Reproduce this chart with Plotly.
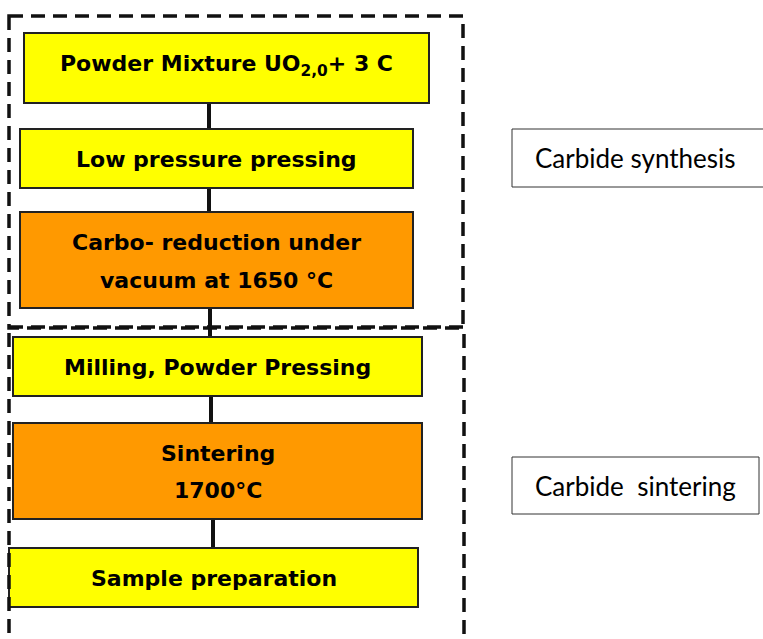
import plotly.graph_objects as go

# ---- data: flowchart steps ----
step_lines = [
    ["Powder Mixture UO<sub>2,0</sub>+ 3 C"],
    ["Low pressure pressing"],
    ["Carbo- reduction under", "vacuum at 1650 °C"],
    ["Milling, Powder Pressing"],
    ["Sintering", "1700°C"],
    ["Sample preparation"],
]
step_kind = ["mix", "mix", "heat", "mix", "heat", "mix"]
stage_labels = ["Carbide synthesis", "Carbide  sintering"]

# ---- layout geometry (pixels of the page) ----
W, H = 763, 639
box_geom = [  # x0, x1, y0, y1
    (24, 429, 33, 103),
    (20, 413, 129, 188),
    (20, 413, 212, 308),
    (13, 422, 337, 396),
    (13, 422, 423, 519),
    (9, 418, 548, 607),
]
line_y = [[65], [159], [242, 280], [367], [453, 490], [578]]
conn_x = [209, 209, 210, 211, 213]
dash_boxes = [(9, 463, 16, 328), (9, 464, 327, 641)]
stage_geom = [(512, 775, 129, 187), (512, 759, 457, 514)]

colors = {"mix": "#FFFF00", "heat": "#FF9900"}

shapes = []
annotations = []

# connectors (behind boxes)
for i, cx in enumerate(conn_x):
    shapes.append(dict(type="line", xref="x", yref="y", x0=cx, x1=cx,
                       y0=box_geom[i][3], y1=box_geom[i + 1][2],
                       line=dict(color="#111111", width=4), layer="below"))

# dashed group frames
for (x0, x1, y0, y1) in dash_boxes:
    shapes.append(dict(type="rect", xref="x", yref="y", x0=x0, x1=x1, y0=y0, y1=y1,
                       line=dict(color="#111111", width=3.5, dash="14px,8px"),
                       fillcolor="rgba(0,0,0,0)", layer="above"))

# step boxes
for (x0, x1, y0, y1), kind, lines, ys in zip(box_geom, step_kind, step_lines, line_y):
    shapes.append(dict(type="rect", xref="x", yref="y", x0=x0, x1=x1, y0=y0, y1=y1,
                       line=dict(color="#222222", width=2), fillcolor=colors[kind],
                       layer="below"))
    for txt, ty in zip(lines, ys):
        annotations.append(dict(x=(x0 + x1) / 2, y=ty, xref="x", yref="y",
                                text="<b>" + txt + "</b>", showarrow=False,
                                xanchor="center", yanchor="middle",
                                font=dict(family="DejaVu Sans", size=22, color="#000000")))

# stage labels
for (x0, x1, y0, y1), lab in zip(stage_geom, stage_labels):
    shapes.append(dict(type="rect", xref="x", yref="y", x0=x0, x1=x1, y0=y0, y1=y1,
                       line=dict(color="#333333", width=1), fillcolor="#FFFFFF"))
    annotations.append(dict(x=635, y=(y0 + y1) / 2, xref="x", yref="y", text=lab,
                            showarrow=False, xanchor="center", yanchor="middle",
                            font=dict(family="Lato", size=26, color="#000000")))

fig = go.Figure()
fig.update_layout(
    width=W, height=H,
    margin=dict(l=0, r=0, t=0, b=0),
    paper_bgcolor="white", plot_bgcolor="white",
    xaxis=dict(range=[0, W], visible=False, fixedrange=True),
    yaxis=dict(range=[H, 0], visible=False, fixedrange=True),
    shapes=shapes, annotations=annotations, showlegend=False,
)
fig.write_html(
    "out.html",
    config={"displayModeBar": False},
    post_script="document.body.style.margin='0';document.body.style.overflow='hidden';",
)
